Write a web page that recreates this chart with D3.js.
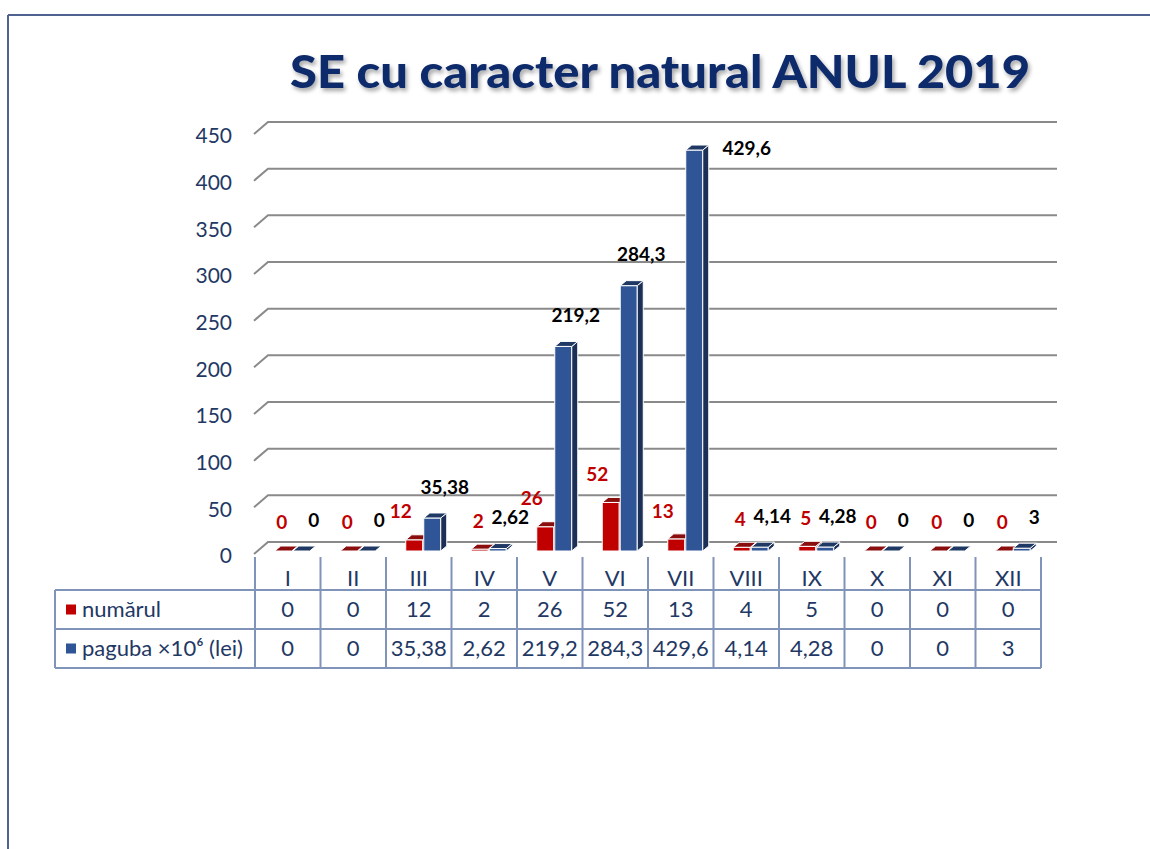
<!DOCTYPE html>
<html>
<head>
<meta charset="UTF-8">
<title>SE cu caracter natural ANUL 2019</title>
<script src="https://d3js.org/d3.v7.min.js"></script>
<style>
  body { margin:0; background:#fff; }
  text { font-family: Lato, "Open Sans", sans-serif; }
</style>
</head>
<body>
<script>
var months = ["I","II","III","IV","V","VI","VII","VIII","IX","X","XI","XII"];
var numarul = [0,0,12,2,26,52,13,4,5,0,0,0];
var paguba = [0,0,35.38,2.62,219.2,284.3,429.6,4.14,4.28,0,0,3];
var pagubaText = ["0","0","35,38","2,62","219,2","284,3","429,6","4,14","4,28","0","0","3"];
var yTicks = [0,50,100,150,200,250,300,350,400,450];
var seriesNames = ["numărul","paguba ×10⁶ (lei)"];

var W = 1150, H = 849;
var navy = "#1f3864", red = "#c00000", blue = "#2f5597";
var dx = 6, dy = -5;   // bar depth

var svg = d3.select("body").append("svg")
    .attr("width", W).attr("height", H);

// frame
svg.append("line").attr("x1",8).attr("x2",W).attr("y1",15).attr("y2",15)
    .attr("stroke","#4f6290").attr("stroke-width",2);
svg.append("line").attr("x1",8).attr("x2",8).attr("y1",15).attr("y2",H)
    .attr("stroke","#4f6290").attr("stroke-width",2);

// title with shadow
var defs = svg.append("defs");
var f = defs.append("filter").attr("id","sh").attr("x","-5%").attr("y","-20%").attr("width","110%").attr("height","150%");
f.append("feDropShadow").attr("dx",2).attr("dy",3).attr("stdDeviation",2).attr("flood-color","#000").attr("flood-opacity",0.35);
svg.append("text").attr("x",660).attr("y",88).attr("text-anchor","middle")
    .attr("font-size",46).attr("font-weight",900).attr("fill","#102a6b")
    .attr("textLength",740).attr("lengthAdjust","spacingAndGlyphs")
    .attr("filter","url(#sh)")
    .text("SE cu caracter natural ANUL 2019");

var xScale = d3.scaleBand().domain(months).range([255,1041]).padding(0);
var yScale = d3.scaleLinear().domain([0,450]).range([551,131]);
var bw = xScale.bandwidth();

// gridlines (back wall + floor stub)
var grid = svg.append("g");
yTicks.forEach(function(t){
    var yb = yScale(t) - 9;
    grid.append("path")
        .attr("d","M254,"+(yb+12)+"L268,"+yb+"L1057,"+yb)
        .attr("fill","none").attr("stroke","#8a8a8a").attr("stroke-width",2);
});

// y axis labels
svg.append("g").selectAll("text").data(yTicks).enter().append("text")
    .attr("x",232).attr("y",function(d){return yScale(d)+5;})
    .attr("dy","0.35em").attr("text-anchor","end")
    .attr("font-size",21).attr("fill",navy)
    .text(function(d){return d;});

// 3D bar helper
function bar(g, x, v, w, cFront, cTop, cSide) {
    var y0 = yScale(0), y1 = yScale(v);
    if (v > 0.5) {
        g.append("rect").attr("x",x).attr("y",y1).attr("width",w).attr("height",y0-y1)
            .attr("fill",cFront).attr("stroke","#fff").attr("stroke-width",1);
        g.append("path").attr("d","M"+(x+w)+","+y1+"l"+dx+","+dy+"l0,"+(y0-y1)+"l"+(-dx)+","+(-dy)+"z")
            .attr("fill",cSide).attr("stroke","#fff").attr("stroke-width",1);
    }
    g.append("path").attr("d","M"+x+","+y1+"l"+dx+","+dy+"l"+w+",0l"+(-dx)+","+(-dy)+"z")
        .attr("fill",cTop).attr("stroke","#fff").attr("stroke-width",1);
}

var bars = svg.append("g");
months.forEach(function(m,i){
    var c = xScale(m) + bw/2;
    bar(bars, c-13, numarul[i], 17, red, "#8b0e0e", "#7a0000");
    bar(bars, c+5, paguba[i], 17, blue, "#1f3864", "#1c2f57");
});

// data labels
var lab = svg.append("g").attr("font-weight",700).attr("font-size",19).attr("text-anchor","middle");
months.forEach(function(m,i){
    var c = xScale(m) + bw/2;
    var v = numarul[i];
    var rx = v >= 10 ? c-18 : c-6;
    var ry = Math.min(yScale(v)-28, 522);
    lab.append("text").attr("x",rx).attr("y",ry).attr("dy","0.35em").attr("fill",red).text(v);
    var p = paguba[i];
    var bx = c+26, by = Math.min(yScale(p)-31, 520);
    if (m === "VII") { bx = c+66; by = yScale(p)-2; }
    lab.append("text").attr("x",bx).attr("y",by).attr("dy","0.35em").attr("fill","#000").text(pagubaText[i]);
});

// category axis + table
var lineC = "#8093b8";
var tbl = svg.append("g");
var cols = [255].concat(months.map(function(m){return xScale(m)+bw;}));
cols.forEach(function(x){
    tbl.append("line").attr("x1",x).attr("x2",x).attr("y1",557).attr("y2",590)
        .attr("stroke",lineC).attr("stroke-width",2);
});
tbl.selectAll("text.cat").data(months).enter().append("text")
    .attr("x",function(d){return xScale(d)+bw/2;}).attr("y",578)
    .attr("dy","0.35em").attr("text-anchor","middle").attr("font-size",22).attr("fill",navy)
    .text(function(d){return d;});

var rows = [590,629,668];
rows.forEach(function(y){
    tbl.append("line").attr("x1",55).attr("x2",1041).attr("y1",y).attr("y2",y)
        .attr("stroke",lineC).attr("stroke-width",2);
});
[55].concat(cols).forEach(function(x){
    tbl.append("line").attr("x1",x).attr("x2",x).attr("y1",590).attr("y2",668)
        .attr("stroke",lineC).attr("stroke-width",2);
});
var rowData = [numarul.map(String), pagubaText];
var rowColors = [red, blue];
rowData.forEach(function(r,j){
    var yc = (rows[j]+rows[j+1])/2;
    tbl.append("rect").attr("x",66).attr("y",yc-5).attr("width",10).attr("height",10).attr("fill",rowColors[j]);
    tbl.append("text").attr("x",82).attr("y",yc).attr("dy","0.35em").attr("font-size",22).attr("fill",navy)
        .text(seriesNames[j]);
    tbl.selectAll(null).data(r).enter().append("text")
        .attr("x",function(d,i){return xScale(months[i])+bw/2;}).attr("y",yc)
        .attr("dy","0.35em").attr("text-anchor","middle").attr("font-size",22).attr("fill",navy)
        .text(function(d){return d;});
});
</script>
</body>
</html>
